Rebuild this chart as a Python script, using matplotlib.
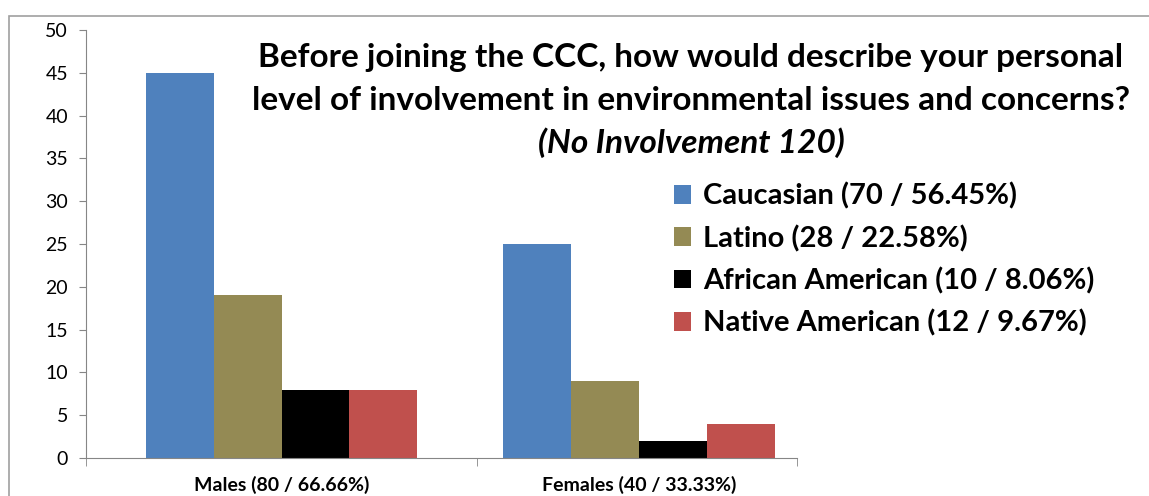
import matplotlib.pyplot as plt
from matplotlib.patches import Rectangle
import numpy as np

plt.rcParams['font.family'] = ['Lato', 'DejaVu Sans']

groups = ["Males (80 / 66.66%)", "Females (40 / 33.33%)"]
series = ["Caucasian (70 / 56.45%)", "Latino (28 / 22.58%)",
          "African American (10 / 8.06%)", "Native American (12 / 9.67%)"]
values = [[45, 25], [19, 9], [8, 2], [8, 4]]
colors = ['#4f81bd', '#948a54', '#000000', '#c0504d']

fig = plt.figure(figsize=(11.49, 4.96), dpi=100)
# chart-area border
fig.patches.append(Rectangle((9 / 1149, -0.1), 1.2, 1 - 16 / 496 + 0.1,
                             transform=fig.transFigure, fill=False,
                             edgecolor='#a0a0a0', linewidth=1.2))

ax = fig.add_axes([86 / 1149, 38 / 496, (797 - 86) / 1149, (458 - 30) / 496])
x = np.arange(len(groups))
w = 0.19
for i, (name, vals, c) in enumerate(zip(series, values, colors)):
    ax.bar(x + (i - 1.5) * w, vals, w, color=c, label=name)

ax.set_xlim(-0.547, 1.442)
ax.set_ylim(0, 50)
ax.set_yticks(range(0, 51, 5))
ax.tick_params(axis='y', labelsize=14, length=5, color='#868686', pad=8)
ax.set_xticks(x)
ax.set_xticklabels(groups, fontweight='bold', fontsize=14)
ax.tick_params(axis='x', length=0, pad=13)
ax.set_xticks([-0.547, 0.547, 1.442], minor=True)
ax.tick_params(axis='x', which='minor', length=6, color='#868686')
for s in ['top', 'right']:
    ax.spines[s].set_visible(False)
for s in ['left', 'bottom']:
    ax.spines[s].set_color('#868686')

title_lines = ["Before joining the CCC, how would describe your personal",
               "level of involvement in environmental issues and concerns?"]
for k, line in enumerate(title_lines):
    fig.text(691 / 1149, 1 - (58 + 42 * k) / 496, line, ha='center',
             va='center', fontsize=24, fontweight='bold')
fig.text(691 / 1149, 1 - 143 / 496, "(No Involvement 120)", ha='center',
         va='center', fontsize=24, fontweight='bold', style='italic')

fig.legend(loc='upper left', bbox_to_anchor=(659 / 1149, 1 - 168 / 496),
           frameon=False, prop={'weight': 'bold', 'size': 21},
           handlelength=0.6, handleheight=0.6, handletextpad=0.4,
           labelspacing=0.52, borderpad=0)

fig.savefig('out.png', dpi=100)
